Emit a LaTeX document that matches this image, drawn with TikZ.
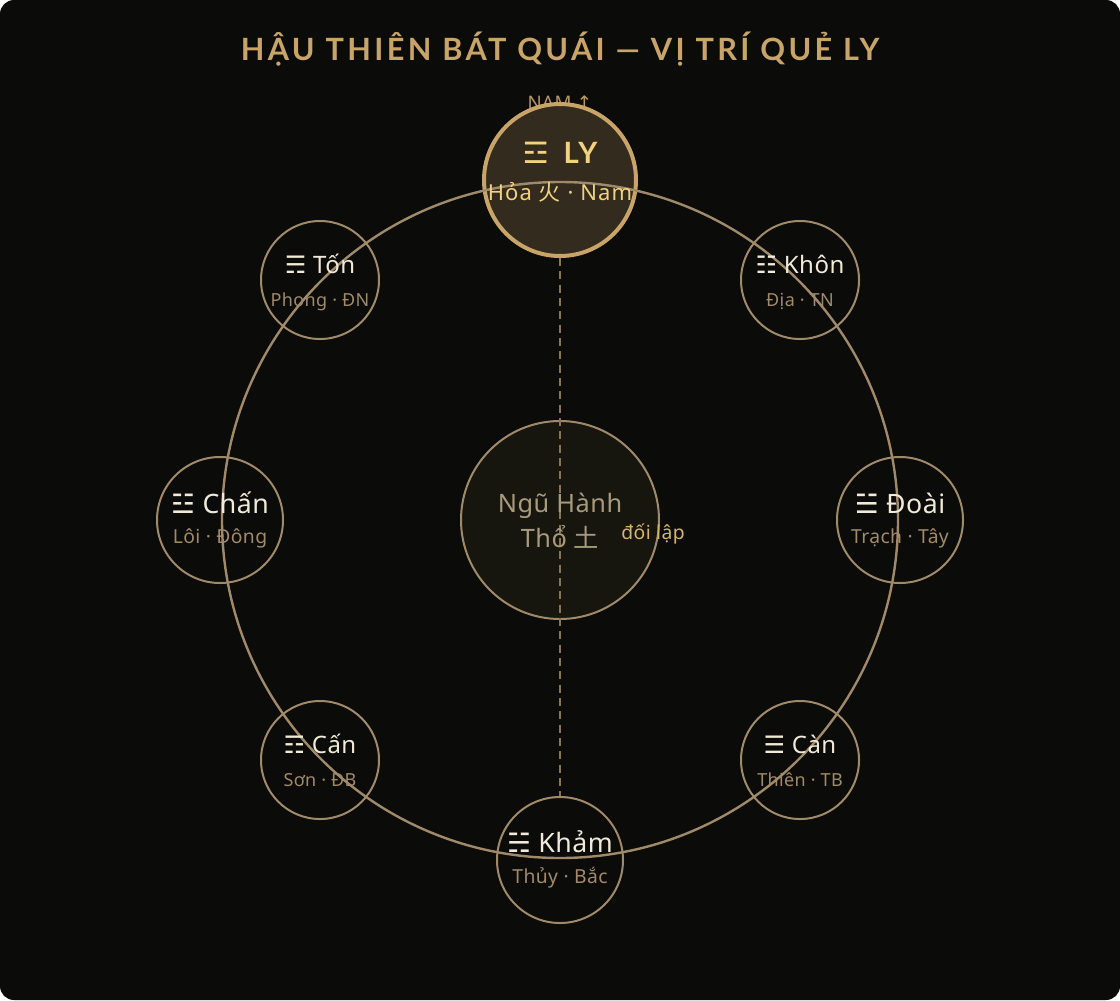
\documentclass[tikz,border=0pt]{standalone}
\usepackage{fontspec}
\setmainfont{Noto Sans}[LetterSpace=2]
\newfontfamily\heavyfont{Lato}[LetterSpace=8]
\newfontfamily\trifont{DejaVu Sans}
\newfontfamily\cjkfont{Noto Sans CJK SC}
\usetikzlibrary{positioning, calc}
\definecolor{bgdark}{HTML}{0B0B09}
\definecolor{ringtan}{HTML}{A08A6A}
\definecolor{lygold}{HTML}{C9A468}
\definecolor{lyfill}{HTML}{332B1E}
\definecolor{lytext}{HTML}{F2D27E}
\definecolor{cream}{HTML}{F2EAD8}
\definecolor{midfill}{HTML}{16160F}
\definecolor{midtext}{HTML}{A89A7C}
\definecolor{dashtan}{HTML}{8A7555}
\definecolor{namgold}{HTML}{B8985E}
\definecolor{oppgold}{HTML}{D8B46C}

\tikzset{
  gua/.style={circle, draw=ringtan, line width=1.5pt, minimum size=88.5pt, inner sep=0pt},
  guacard/.style={gua, minimum size=94.5pt},
  guaname/.style={anchor=base, inner sep=0pt, text=cream, font=\fontsize{18}{20}\selectfont},
  guanamebig/.style={anchor=base, inner sep=0pt, text=cream, font=\fontsize{20}{22}\selectfont},
  guasub/.style={anchor=base, inner sep=0pt, text=ringtan, font=\fontsize{13.5}{16}\selectfont},
  guasubbig/.style={anchor=base, inner sep=0pt, text=ringtan, font=\fontsize{14.5}{17}\selectfont},
}

\begin{document}
\begin{tikzpicture}[x=0.75pt, y=-0.75pt]
  % Frame
  \useasboundingbox (0,0) rectangle (1120,1000);
  \fill[white] (0,0) rectangle (1120,1000);
  \fill[bgdark, rounded corners=10.5pt] (0,0) rectangle (1120,1000);

  % Title
  \node[anchor=base, text=lygold, font=\heavyfont\fontsize{23}{26}\selectfont\bfseries\addfontfeatures{LetterSpace=11}] (title) at (560,60) {HẬU THIÊN BÁT QUÁI — VỊ TRÍ QUẺ LY};

  % South marker
  \node[anchor=base, inner sep=0pt, text=namgold, font=\fontsize{14}{16}\selectfont] (nam) at (560,109) {NAM {\trifont ↑}};

  % Ly (highlighted)
  \node[circle, draw=lygold, fill=lyfill, line width=3pt, minimum size=114pt, inner sep=0pt] (ly) at (560,180) {};

  % Outer ring
  \node[circle, draw=ringtan, line width=1.8pt, minimum size=507pt, inner sep=0pt] (ring) at (560,520) {};

  % Center
  \node[circle, draw=ringtan, fill=midfill, line width=1.5pt, minimum size=148.5pt, inner sep=0pt] (nguhanh) at (560,520) {};

  % Trigrams
  \node[gua] (ton) at (320,280) {};
  \node[gua] (khon) at (800,280) {};
  \node[guacard] (chan) at (220,520) {};
  \node[guacard] (doai) at (900,520) {};
  \node[gua] (can) at (320,760) {};
  \node[gua] (kien) at (800,760) {};
  \node[guacard] (kham) at (560,860) {};

  % Opposition axis
  \draw[dashtan, line width=1.2pt, dash pattern=on 6pt off 4pt] (ly.south) -- (kham.north);

  % Labels
  \node[anchor=base, inner sep=0pt, text=lytext, font=\heavyfont\fontsize{22}{24}\selectfont\bfseries] (lyname) at (560,163) {{\trifont ☲}\enspace LY};
  \node[anchor=base, inner sep=0pt, text=lytext, font=\fontsize{16.5}{18}\selectfont\addfontfeatures{LetterSpace=5}] (lysub) at (560,200) {Hỏa {\cjkfont 火} · Nam};

  \node[guaname] (tonname) at (320,273) {{\trifont ☴}~Tốn};
  \node[guasub] (tonsub) at (320,306) {Phong · ĐN};
  \node[guaname] (khonname) at (800,273) {{\trifont ☷}~Khôn};
  \node[guasub] (khonsub) at (800,306) {Địa · TN};
  \node[guanamebig] (channame) at (220,513) {{\trifont ☳}~Chấn};
  \node[guasubbig] (chansub) at (220,543) {Lôi · Đông};
  \node[guanamebig] (doainame) at (900,513) {{\trifont ☱}~Đoài};
  \node[guasubbig] (doaisub) at (900,543) {Trạch · Tây};
  \node[guaname] (canname) at (320,753) {{\trifont ☶}~Cấn};
  \node[guasub] (cansub) at (320,786) {Sơn · ĐB};
  \node[guaname] (kienname) at (800,753) {{\trifont ☰}~Càn};
  \node[guasub] (kiensub) at (800,786) {Thiên · TB};
  \node[guanamebig] (khamname) at (560,852) {{\trifont ☵}~Khảm};
  \node[guasubbig] (khamsub) at (560,883) {Thủy · Bắc};

  \node[anchor=base, inner sep=0pt, text=midtext, font=\fontsize{19}{22}\selectfont] (nhname) at (560,512) {Ngũ Hành};
  \node[anchor=base, inner sep=0pt, text=midtext, font=\fontsize{19}{22}\selectfont] (nhsub) at (560,547) {Thổ {\cjkfont 土}};

  \node[anchor=base, inner sep=0pt, text=oppgold, font=\fontsize{14.5}{16}\selectfont] (doilap) at (653,539) {đối lập};
\end{tikzpicture}
\end{document}
